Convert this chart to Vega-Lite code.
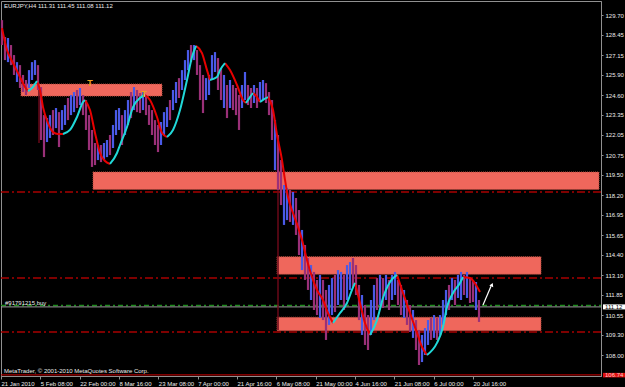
{
"$schema":"https://vega.github.io/schema/vega-lite/v6.json",
"width":600,"height":375,
"autosize":{"type":"none"},
"padding":{"left":1,"top":1,"right":24,"bottom":11},
"background":"#000000",
"config":{"view":{"stroke":"#909090","fill":"#000000"},"text":{"font":"Liberation Sans"}},
"datasets":{
"bars":[
{"t":2,"p":129.38,"p2":127.79,"d":"d"},{"t":5,"p":128.30,"p2":126.83,"d":"d"},{"t":8,"p":128.24,"p2":126.70,"d":"u"},{"t":11,"p":127.79,"p2":126.51,"d":"d"},{"t":14,"p":127.15,"p2":125.88,"d":"d"},{"t":17,"p":126.70,"p2":125.43,"d":"u"},{"t":20,"p":126.51,"p2":125.05,"d":"d"},{"t":23,"p":125.88,"p2":124.79,"d":"d"},{"t":26,"p":125.56,"p2":124.60,"d":"d"},{"t":29,"p":126.19,"p2":125.05,"d":"u"},{"t":32,"p":126.70,"p2":125.56,"d":"u"},{"t":35,"p":126.83,"p2":125.88,"d":"u"},{"t":38,"p":126.51,"p2":124.92,"d":"d"},{"t":41,"p":125.11,"p2":121.73,"d":"d"},{"t":44,"p":123.32,"p2":120.64,"d":"d"},{"t":47,"p":123.13,"p2":121.60,"d":"u"},{"t":50,"p":123.32,"p2":121.86,"d":"u"},{"t":53,"p":123.64,"p2":122.05,"d":"d"},{"t":56,"p":123.77,"p2":122.49,"d":"u"},{"t":59,"p":123.51,"p2":121.28,"d":"d"},{"t":62,"p":123.64,"p2":122.37,"d":"u"},{"t":65,"p":123.96,"p2":122.69,"d":"u"},{"t":68,"p":124.41,"p2":123.00,"d":"d"},{"t":71,"p":124.60,"p2":123.32,"d":"u"},{"t":74,"p":124.79,"p2":123.51,"d":"u"},{"t":77,"p":124.92,"p2":123.77,"d":"d"},{"t":80,"p":125.05,"p2":123.96,"d":"u"},{"t":83,"p":124.60,"p2":123.32,"d":"d"},{"t":86,"p":124.28,"p2":122.37,"d":"d"},{"t":89,"p":123.32,"p2":121.09,"d":"d"},{"t":92,"p":122.37,"p2":120.01,"d":"d"},{"t":95,"p":121.54,"p2":120.13,"d":"d"},{"t":98,"p":121.41,"p2":120.45,"d":"u"},{"t":101,"p":121.41,"p2":120.32,"d":"d"},{"t":104,"p":121.54,"p2":120.45,"d":"u"},{"t":107,"p":121.73,"p2":120.64,"d":"u"},{"t":110,"p":122.05,"p2":120.77,"d":"d"},{"t":113,"p":122.69,"p2":121.22,"d":"u"},{"t":116,"p":123.64,"p2":122.05,"d":"u"},{"t":119,"p":123.77,"p2":122.37,"d":"u"},{"t":122,"p":123.32,"p2":121.41,"d":"d"},{"t":125,"p":123.64,"p2":122.05,"d":"u"},{"t":128,"p":124.28,"p2":122.69,"d":"u"},{"t":131,"p":124.79,"p2":123.13,"d":"d"},{"t":134,"p":125.11,"p2":123.64,"d":"u"},{"t":137,"p":124.92,"p2":123.51,"d":"d"},{"t":140,"p":124.73,"p2":123.45,"d":"d"},{"t":143,"p":124.79,"p2":123.64,"d":"u"},{"t":146,"p":124.60,"p2":123.32,"d":"d"},{"t":149,"p":123.96,"p2":122.69,"d":"d"},{"t":152,"p":123.64,"p2":122.05,"d":"d"},{"t":155,"p":123.00,"p2":121.41,"d":"d"},{"t":158,"p":122.69,"p2":120.96,"d":"d"},{"t":161,"p":122.88,"p2":121.41,"d":"u"},{"t":164,"p":123.51,"p2":122.05,"d":"u"},{"t":167,"p":123.83,"p2":122.56,"d":"u"},{"t":170,"p":124.28,"p2":123.00,"d":"d"},{"t":173,"p":124.92,"p2":123.64,"d":"u"},{"t":176,"p":125.43,"p2":124.09,"d":"u"},{"t":179,"p":125.68,"p2":124.41,"d":"d"},{"t":182,"p":126.19,"p2":124.92,"d":"u"},{"t":185,"p":126.83,"p2":125.56,"d":"u"},{"t":188,"p":127.47,"p2":126.19,"d":"u"},{"t":191,"p":127.79,"p2":126.70,"d":"d"},{"t":194,"p":127.79,"p2":126.83,"d":"u"},{"t":197,"p":127.47,"p2":125.88,"d":"d"},{"t":200,"p":126.51,"p2":124.28,"d":"d"},{"t":203,"p":125.88,"p2":123.45,"d":"d"},{"t":206,"p":125.68,"p2":124.28,"d":"u"},{"t":209,"p":125.88,"p2":124.60,"d":"u"},{"t":212,"p":127.15,"p2":125.56,"d":"u"},{"t":215,"p":127.34,"p2":126.07,"d":"u"},{"t":218,"p":126.96,"p2":124.92,"d":"d"},{"t":221,"p":126.32,"p2":124.28,"d":"d"},{"t":224,"p":125.88,"p2":123.77,"d":"u"},{"t":227,"p":125.24,"p2":123.13,"d":"d"},{"t":230,"p":125.56,"p2":123.77,"d":"u"},{"t":233,"p":125.24,"p2":123.64,"d":"d"},{"t":236,"p":125.05,"p2":123.32,"d":"d"},{"t":239,"p":124.60,"p2":122.37,"d":"d"},{"t":242,"p":125.24,"p2":123.77,"d":"u"},{"t":245,"p":126.07,"p2":124.28,"d":"u"},{"t":248,"p":125.24,"p2":123.96,"d":"d"},{"t":251,"p":125.05,"p2":123.77,"d":"d"},{"t":254,"p":125.24,"p2":124.09,"d":"u"},{"t":257,"p":125.05,"p2":123.77,"d":"d"},{"t":260,"p":125.43,"p2":124.15,"d":"u"},{"t":263,"p":125.56,"p2":124.28,"d":"u"},{"t":266,"p":125.36,"p2":124.09,"d":"d"},{"t":269,"p":124.79,"p2":123.32,"d":"d"},{"t":272,"p":124.28,"p2":121.73,"d":"d"},{"t":275,"p":123.00,"p2":119.81,"d":"u"},{"t":278,"p":122.05,"p2":118.54,"d":"d"},{"t":281,"p":120.45,"p2":117.58,"d":"d"},{"t":284,"p":118.86,"p2":116.31,"d":"u"},{"t":287,"p":118.67,"p2":116.62,"d":"u"},{"t":290,"p":118.54,"p2":116.50,"d":"d"},{"t":293,"p":118.41,"p2":116.31,"d":"u"},{"t":296,"p":118.03,"p2":115.67,"d":"d"},{"t":299,"p":117.26,"p2":114.39,"d":"d"},{"t":302,"p":115.99,"p2":113.43,"d":"u"},{"t":305,"p":115.03,"p2":112.80,"d":"d"},{"t":308,"p":114.20,"p2":112.16,"d":"d"},{"t":311,"p":113.75,"p2":111.52,"d":"u"},{"t":314,"p":113.31,"p2":110.88,"d":"d"},{"t":317,"p":112.80,"p2":110.56,"d":"d"},{"t":320,"p":113.12,"p2":110.37,"d":"u"},{"t":323,"p":112.80,"p2":110.24,"d":"d"},{"t":326,"p":112.16,"p2":108.97,"d":"d"},{"t":329,"p":112.48,"p2":109.93,"d":"u"},{"t":332,"p":112.92,"p2":110.56,"d":"u"},{"t":335,"p":113.12,"p2":110.75,"d":"d"},{"t":338,"p":113.43,"p2":111.20,"d":"u"},{"t":341,"p":113.31,"p2":111.52,"d":"u"},{"t":344,"p":113.12,"p2":110.88,"d":"d"},{"t":347,"p":113.75,"p2":111.52,"d":"u"},{"t":350,"p":113.94,"p2":112.16,"d":"u"},{"t":353,"p":114.20,"p2":112.35,"d":"d"},{"t":356,"p":113.75,"p2":111.84,"d":"d"},{"t":359,"p":112.48,"p2":110.24,"d":"d"},{"t":362,"p":111.84,"p2":109.29,"d":"u"},{"t":365,"p":111.20,"p2":108.65,"d":"d"},{"t":368,"p":110.56,"p2":108.33,"d":"d"},{"t":371,"p":111.52,"p2":109.29,"d":"u"},{"t":374,"p":112.48,"p2":110.24,"d":"u"},{"t":377,"p":112.92,"p2":110.88,"d":"d"},{"t":380,"p":113.12,"p2":111.20,"d":"u"},{"t":383,"p":112.92,"p2":111.01,"d":"d"},{"t":386,"p":113.12,"p2":111.52,"d":"u"},{"t":389,"p":112.80,"p2":110.88,"d":"d"},{"t":392,"p":113.12,"p2":111.52,"d":"u"},{"t":395,"p":113.31,"p2":111.84,"d":"u"},{"t":398,"p":112.80,"p2":111.20,"d":"d"},{"t":401,"p":112.48,"p2":110.56,"d":"d"},{"t":404,"p":112.16,"p2":110.37,"d":"u"},{"t":407,"p":111.52,"p2":109.93,"d":"d"},{"t":410,"p":111.20,"p2":109.48,"d":"d"},{"t":413,"p":110.88,"p2":109.10,"d":"u"},{"t":416,"p":110.24,"p2":108.33,"d":"d"},{"t":419,"p":109.61,"p2":107.37,"d":"d"},{"t":422,"p":109.29,"p2":107.56,"d":"u"},{"t":425,"p":109.73,"p2":108.01,"d":"u"},{"t":428,"p":110.24,"p2":108.65,"d":"u"},{"t":431,"p":110.37,"p2":108.97,"d":"d"},{"t":434,"p":110.56,"p2":109.10,"d":"u"},{"t":437,"p":110.37,"p2":108.97,"d":"d"},{"t":440,"p":110.56,"p2":109.29,"d":"u"},{"t":443,"p":111.52,"p2":109.93,"d":"u"},{"t":446,"p":112.16,"p2":110.56,"d":"u"},{"t":449,"p":112.48,"p2":110.88,"d":"d"},{"t":452,"p":112.92,"p2":111.52,"d":"u"},{"t":455,"p":112.80,"p2":111.20,"d":"d"},{"t":458,"p":113.12,"p2":111.65,"d":"u"},{"t":461,"p":113.31,"p2":111.52,"d":"u"},{"t":464,"p":113.12,"p2":111.84,"d":"d"},{"t":467,"p":113.31,"p2":111.65,"d":"u"},{"t":470,"p":112.92,"p2":111.33,"d":"d"},{"t":473,"p":112.80,"p2":111.39,"d":"d"},{"t":476,"p":112.67,"p2":110.88,"d":"u"},{"t":479,"p":111.52,"p2":110.12,"d":"d"}
],
"ma":[
{"t":2,"p":128.87,"s":1,"k":"dn"},{"t":7,"p":127.47,"s":1,"k":"dn"},{"t":13,"p":126.64,"s":1,"k":"dn"},{"t":20,"p":125.75,"s":1,"k":"dn"},{"t":25,"p":125.11,"s":1,"k":"dn"},{"t":28,"p":124.85,"s":1,"k":"dn"},
{"t":28,"p":124.85,"s":2,"k":"up"},{"t":32,"p":125.05,"s":2,"k":"up"},{"t":37,"p":125.49,"s":2,"k":"up"},
{"t":37,"p":125.49,"s":3,"k":"dn"},{"t":40,"p":124.92,"s":3,"k":"dn"},{"t":43,"p":123.83,"s":3,"k":"dn"},{"t":48,"p":122.81,"s":3,"k":"dn"},{"t":53,"p":122.24,"s":3,"k":"dn"},{"t":58,"p":122.11,"s":3,"k":"dn"},{"t":63,"p":122.11,"s":3,"k":"dn"},
{"t":63,"p":122.11,"s":4,"k":"up"},{"t":70,"p":122.37,"s":4,"k":"up"},{"t":77,"p":123.20,"s":4,"k":"up"},{"t":83,"p":124.15,"s":4,"k":"up"},{"t":85,"p":124.28,"s":4,"k":"up"},
{"t":85,"p":124.28,"s":5,"k":"dn"},{"t":90,"p":123.64,"s":5,"k":"dn"},{"t":95,"p":122.18,"s":5,"k":"dn"},{"t":100,"p":120.90,"s":5,"k":"dn"},{"t":105,"p":120.39,"s":5,"k":"dn"},{"t":110,"p":120.20,"s":5,"k":"dn"},
{"t":110,"p":120.20,"s":6,"k":"up"},{"t":117,"p":120.90,"s":6,"k":"up"},{"t":120,"p":121.41,"s":6,"k":"up"},{"t":127,"p":122.56,"s":6,"k":"up"},{"t":133,"p":123.83,"s":6,"k":"up"},{"t":140,"p":124.41,"s":6,"k":"up"},{"t":145,"p":124.60,"s":6,"k":"up"},
{"t":145,"p":124.60,"s":7,"k":"dn"},{"t":150,"p":124.28,"s":7,"k":"dn"},{"t":157,"p":123.20,"s":7,"k":"dn"},{"t":162,"p":122.18,"s":7,"k":"dn"},{"t":167,"p":121.92,"s":7,"k":"dn"},
{"t":167,"p":121.92,"s":8,"k":"up"},{"t":173,"p":122.37,"s":8,"k":"up"},{"t":180,"p":123.64,"s":8,"k":"up"},{"t":187,"p":125.56,"s":8,"k":"up"},{"t":192,"p":127.02,"s":8,"k":"up"},{"t":196,"p":127.73,"s":8,"k":"up"},
{"t":196,"p":127.73,"s":9,"k":"dn"},{"t":202,"p":127.28,"s":9,"k":"dn"},{"t":207,"p":126.19,"s":9,"k":"dn"},{"t":210,"p":125.56,"s":9,"k":"dn"},
{"t":210,"p":125.56,"s":10,"k":"up"},{"t":217,"p":125.75,"s":10,"k":"up"},{"t":220,"p":126.19,"s":10,"k":"up"},{"t":225,"p":126.64,"s":10,"k":"up"},
{"t":225,"p":126.64,"s":11,"k":"dn"},{"t":230,"p":126.19,"s":11,"k":"dn"},{"t":237,"p":125.24,"s":11,"k":"dn"},{"t":243,"p":124.28,"s":11,"k":"dn"},{"t":246,"p":124.09,"s":11,"k":"dn"},
{"t":246,"p":124.09,"s":12,"k":"up"},{"t":250,"p":124.47,"s":12,"k":"up"},{"t":253,"p":124.73,"s":12,"k":"up"},
{"t":253,"p":124.73,"s":13,"k":"dn"},{"t":257,"p":124.47,"s":13,"k":"dn"},{"t":260,"p":124.15,"s":13,"k":"dn"},
{"t":260,"p":124.15,"s":14,"k":"up"},{"t":264,"p":124.34,"s":14,"k":"up"},{"t":268,"p":124.47,"s":14,"k":"up"},
{"t":268,"p":124.47,"s":15,"k":"dn"},{"t":273,"p":123.64,"s":15,"k":"dn"},{"t":277,"p":122.05,"s":15,"k":"dn"},{"t":282,"p":120.45,"s":15,"k":"dn"},{"t":285,"p":119.18,"s":15,"k":"dn"},{"t":288,"p":118.09,"s":15,"k":"dn"},{"t":293,"p":117.07,"s":15,"k":"dn"},{"t":298,"p":116.18,"s":15,"k":"dn"},{"t":302,"p":115.35,"s":15,"k":"dn"},{"t":307,"p":114.07,"s":15,"k":"dn"},{"t":312,"p":112.99,"s":15,"k":"dn"},{"t":317,"p":112.16,"s":15,"k":"dn"},{"t":323,"p":111.52,"s":15,"k":"dn"},{"t":328,"p":110.69,"s":15,"k":"dn"},{"t":333,"p":110.05,"s":15,"k":"dn"},
{"t":333,"p":110.05,"s":16,"k":"up"},{"t":340,"p":110.69,"s":16,"k":"up"},{"t":347,"p":111.33,"s":16,"k":"up"},{"t":352,"p":112.16,"s":16,"k":"up"},{"t":355,"p":112.61,"s":16,"k":"up"},
{"t":355,"p":112.61,"s":17,"k":"dn"},{"t":360,"p":111.33,"s":17,"k":"dn"},{"t":365,"p":110.05,"s":17,"k":"dn"},{"t":370,"p":109.29,"s":17,"k":"dn"},
{"t":370,"p":109.29,"s":18,"k":"up"},{"t":377,"p":110.24,"s":18,"k":"up"},{"t":383,"p":111.65,"s":18,"k":"up"},{"t":390,"p":112.67,"s":18,"k":"up"},{"t":397,"p":113.12,"s":18,"k":"up"},
{"t":397,"p":113.12,"s":19,"k":"dn"},{"t":403,"p":111.97,"s":19,"k":"dn"},{"t":410,"p":110.69,"s":19,"k":"dn"},{"t":417,"p":109.42,"s":19,"k":"dn"},{"t":422,"p":108.52,"s":19,"k":"dn"},{"t":427,"p":108.01,"s":19,"k":"dn"},
{"t":427,"p":108.01,"s":20,"k":"up"},{"t":437,"p":108.78,"s":20,"k":"up"},{"t":443,"p":109.80,"s":20,"k":"up"},{"t":447,"p":111.07,"s":20,"k":"up"},{"t":453,"p":111.97,"s":20,"k":"up"},{"t":460,"p":112.61,"s":20,"k":"up"},{"t":463,"p":112.99,"s":20,"k":"up"},
{"t":463,"p":112.99,"s":21,"k":"dn"},{"t":470,"p":112.92,"s":21,"k":"dn"},{"t":476,"p":112.48,"s":21,"k":"dn"},{"t":480,"p":112.03,"s":21,"k":"dn"}
]
},
"encoding":{
 "x":{"field":"t","type":"quantitative","scale":{"domain":[1,601],"nice":false,"zero":false},
   "axis":{"orient":"bottom","title":null,"grid":false,"values":[1,40.33,79.67,119,158.33,197.67,237,276.33,315.67,355,394.33,433.67,473],
   "labelExpr":"['21 Jan 2010','5 Feb 08:00','22 Feb 00:00','8 Mar 16:00','23 Mar 08:00','7 Apr 00:00','21 Apr 16:00','6 May 08:00','21 May 00:00','4 Jun 16:00','21 Jun 08:00','6 Jul 00:00','20 Jul 16:00'][round((datum.value-1)/39.333)]",
   "tickSize":3,"tickColor":"#909090","domainColor":"#909090","labelColor":"#ececec","labelFont":"Liberation Sans","labelFontSize":6,"labelAlign":"left","labelBaseline":"top","labelPadding":1,"labelDx":1,"labelOverlap":false,"labelFlush":false,"labelBound":false}},
 "y":{"field":"p","type":"quantitative","scale":{"domain":[106.67,130.6],"nice":false,"zero":false},
   "axis":{"orient":"right","title":null,"grid":false,"values":[129.7,128.45,127.15,125.9,124.6,123.35,122.05,120.75,119.5,118.2,116.95,115.65,114.4,113.1,111.85,110.55,109.3,108.0],
   "format":".2f","tickSize":2,"tickColor":"#909090","domainColor":"#909090","labelColor":"#ececec","labelFont":"Liberation Sans","labelFontSize":6,"labelPadding":2,"labelOverlap":false,"labelFlush":false,"labelBound":false,"labelBaseline":"middle"}}
},
"layer":[
{"data":{"values":[{"t":21,"t2":162,"p":125.30,"p2":124.53},{"t":93,"t2":599,"p":119.69,"p2":118.57},{"t":277,"t2":541,"p":114.28,"p2":113.16},{"t":277,"t2":541,"p":110.42,"p2":109.56}]},
 "mark":{"type":"rect","fill":"#ef675c","stroke":"#b04a3c","strokeWidth":1,"strokeDash":[1,1]},
 "encoding":{"x2":{"field":"t2"},"y2":{"field":"p2"}}},
{"data":{"values":[{"t":1,"t2":601,"p":118.41},{"t":1,"t2":601,"p":112.92},{"t":1,"t2":601,"p":109.48}]},
 "mark":{"type":"rule","color":"#a80000","strokeWidth":1.5,"strokeDash":[8,3,2,3]},
 "encoding":{"x2":{"field":"t2"}}},
{"data":{"values":[{"t":1,"t2":601,"p":111.17}]},
 "mark":{"type":"rule","color":"#1e8c1e","strokeWidth":1.5,"strokeDash":[5,3,2,3]},
 "encoding":{"x2":{"field":"t2"}}},
{"data":{"values":[{"t":1,"t2":601,"p":111.08}]},
 "mark":{"type":"rule","color":"#9a9a9a","strokeWidth":1},
 "encoding":{"x2":{"field":"t2"}}},
{"data":{"values":[{"t":1,"t2":601,"p":106.74}]},
 "mark":{"type":"rule","color":"#d00000","strokeWidth":1},
 "encoding":{"x2":{"field":"t2"}}},
{"data":{"values":[{"t":39,"p":125.11,"p2":121.54},{"t":278,"p":119.81,"p2":109.61}]},
 "mark":{"type":"rule","color":"#6a0818","strokeWidth":1.5},
 "encoding":{"y2":{"field":"p2"}}},
{"data":{"name":"bars"},"transform":[{"filter":"datum.d=='u'"}],
 "mark":{"type":"rule","color":"#4a5ae8","strokeWidth":2.2},
 "encoding":{"y2":{"field":"p2"}}},
{"data":{"name":"bars"},"transform":[{"filter":"datum.d=='d'"}],
 "mark":{"type":"rule","color":"#9a3078","strokeWidth":2.2},
 "encoding":{"y2":{"field":"p2"}}},
{"data":{"name":"ma"},"transform":[{"filter":"datum.k=='dn'"}],
 "mark":{"type":"line","color":"#e80000","strokeWidth":2,"interpolate":"monotone"},
 "encoding":{"detail":{"field":"s"}}},
{"data":{"name":"ma"},"transform":[{"filter":"datum.k=='up'"}],
 "mark":{"type":"line","color":"#20d8d8","strokeWidth":2,"interpolate":"monotone"},
 "encoding":{"detail":{"field":"s"}}},
{"data":{"values":[{"t":483,"p":111.20,"t2":491,"p2":112.40}]},
 "mark":{"type":"rule","color":"#ffffff","strokeWidth":1.2},
 "encoding":{"x2":{"field":"t2"},"y2":{"field":"p2"}}},
{"data":{"values":[{"t":492,"p":112.5}]},
 "mark":{"type":"point","shape":"triangle-up","angle":24,"size":18,"filled":true,"color":"#ffffff","opacity":1}},
{"data":{"values":[{"t":90,"p":125.36,"s":"T"},{"t":144,"p":124.66,"s":"T"}]},
 "mark":{"type":"text","color":"#f0a020","fontSize":9,"fontWeight":"bold","baseline":"middle","align":"center"},
 "encoding":{"text":{"field":"s"}}},
{"data":{"values":[{"t":4,"p":130.15,"s":"EURJPY,H4  111.31 111.45 111.08 111.12"},{"t":5,"p":111.21,"s":"#91791215 buy"},{"t":4,"p":106.84,"s":"MetaTrader, © 2001-2010 MetaQuotes Software Corp."}]},
 "mark":{"type":"text","color":"#ececec","fontSize":6,"align":"left","baseline":"alphabetic"},
 "encoding":{"text":{"field":"s"}}},
{"data":{"values":[{"t":603,"t2":626,"p":111.24,"p2":110.92}]},
 "mark":{"type":"rect","clip":false,"color":"#ffffff"},
 "encoding":{"x2":{"field":"t2"},"y2":{"field":"p2"}}},
{"data":{"values":[{"t":603,"t2":626,"p":106.87,"p2":106.58}]},
 "mark":{"type":"rect","clip":false,"color":"#e01010"},
 "encoding":{"x2":{"field":"t2"},"y2":{"field":"p2"}}},
{"data":{"values":[{"t":605,"p":111.08,"s":"111.12"}]},
 "mark":{"type":"text","clip":false,"color":"#000000","fontSize":6,"align":"left","baseline":"middle"},
 "encoding":{"text":{"field":"s"}}},
{"data":{"values":[{"t":605,"p":106.73,"s":"106.74"}]},
 "mark":{"type":"text","clip":false,"color":"#ffc8c8","fontSize":6,"align":"left","baseline":"middle"},
 "encoding":{"text":{"field":"s"}}}
]
}
